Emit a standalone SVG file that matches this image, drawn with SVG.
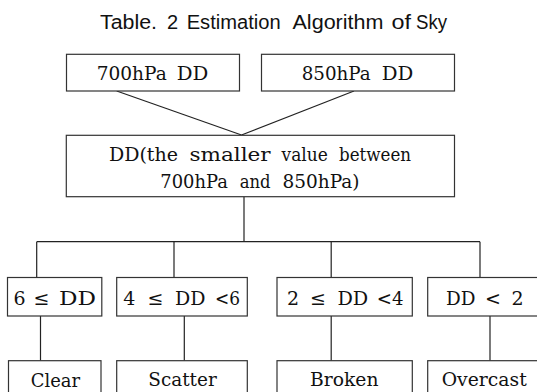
<svg xmlns="http://www.w3.org/2000/svg" width="537" height="392" viewBox="0 0 537 392">
<style>
.box{fill:#fff;stroke:#333;stroke-width:1.2}
.ln{stroke:#222;stroke-width:1.2;fill:none}
text{fill:#111}
.t{font-family:'DejaVu Serif','Liberation Serif',serif;font-size:19px}
.title{font-family:'Liberation Sans',Arial,sans-serif;font-size:20px}
</style>
<rect width="537" height="392" fill="#fff"/>
<g id="title" class="title">
<text x="100" y="29" textLength="57" lengthAdjust="spacingAndGlyphs">Table.</text>
<text x="167" y="29">2</text>
<text x="186.7" y="29" textLength="94" lengthAdjust="spacingAndGlyphs">Estimation</text>
<text x="292.5" y="29" textLength="91" lengthAdjust="spacingAndGlyphs">Algorithm</text>
<text x="391.5" y="29" textLength="19.5" lengthAdjust="spacingAndGlyphs">of</text>
<text x="416" y="29" textLength="31" lengthAdjust="spacingAndGlyphs">Sky</text>
</g>
<g id="connectors">
<line class="ln" x1="116.7" y1="91" x2="241.5" y2="135"/>
<line class="ln" x1="354" y1="91" x2="241.5" y2="135"/>
<line class="ln" x1="244" y1="196.7" x2="244" y2="241.7"/>
<line class="ln" x1="36.7" y1="241.7" x2="480" y2="241.7"/>
<line class="ln" x1="36.7" y1="241.7" x2="36.7" y2="277.5"/>
<line class="ln" x1="174" y1="241.7" x2="174" y2="277.5"/>
<line class="ln" x1="331.2" y1="241.7" x2="331.2" y2="277.5"/>
<line class="ln" x1="480" y1="241.7" x2="480" y2="277.5"/>
<line class="ln" x1="40.5" y1="316" x2="40.5" y2="360.7"/>
<line class="ln" x1="184.3" y1="316" x2="184.3" y2="360.7"/>
<line class="ln" x1="331.2" y1="316" x2="331.2" y2="360.7"/>
<line class="ln" x1="490" y1="316" x2="490" y2="360.7"/>
</g>
<g id="n700" class="t">
<rect class="box" x="66.5" y="54.3" width="173" height="36.7"/>
<text x="96.7" y="80" textLength="70" lengthAdjust="spacingAndGlyphs">700hPa</text>
<text x="176.7" y="80" textLength="31.6" lengthAdjust="spacingAndGlyphs">DD</text>
</g>
<g id="n850" class="t">
<rect class="box" x="261.5" y="54.3" width="193" height="36.7"/>
<text x="301.7" y="80" textLength="69" lengthAdjust="spacingAndGlyphs">850hPa</text>
<text x="381.7" y="80" textLength="31.6" lengthAdjust="spacingAndGlyphs">DD</text>
</g>
<g id="ndd" class="t">
<rect class="box" x="66.3" y="135.3" width="388.2" height="61.4"/>
<text x="108.9" y="160.5" textLength="69.1" lengthAdjust="spacingAndGlyphs">DD(the</text>
<text x="189.4" y="160.5" textLength="81.2" lengthAdjust="spacingAndGlyphs">smaller</text>
<text x="281.5" y="160.5" textLength="46.3" lengthAdjust="spacingAndGlyphs">value</text>
<text x="339" y="160.5" textLength="72" lengthAdjust="spacingAndGlyphs">between</text>
<text x="160.3" y="188" textLength="67.5" lengthAdjust="spacingAndGlyphs">700hPa</text>
<text x="239.7" y="188" textLength="30.9" lengthAdjust="spacingAndGlyphs">and</text>
<text x="282.6" y="188" textLength="77" lengthAdjust="spacingAndGlyphs">850hPa)</text>
</g>
<g id="c1" class="t">
<rect class="box" x="7.5" y="277.5" width="94.3" height="38.5"/>
<text x="13.5" y="305">6</text>
<text x="33.5" y="305">≤</text>
<text x="59" y="305" textLength="37" lengthAdjust="spacingAndGlyphs">DD</text>
</g>
<g id="c2" class="t">
<rect class="box" x="116.7" y="277.5" width="130.6" height="38.5"/>
<text x="123.3" y="305">4</text>
<text x="147.5" y="305">≤</text>
<text x="175" y="305" textLength="30.5" lengthAdjust="spacingAndGlyphs">DD</text>
<text x="215" y="305" textLength="25" lengthAdjust="spacingAndGlyphs">&lt;6</text>
</g>
<g id="c3" class="t">
<rect class="box" x="277" y="277.5" width="135.3" height="38.5"/>
<text x="287" y="305">2</text>
<text x="310" y="305">≤</text>
<text x="337.4" y="305" textLength="30.8" lengthAdjust="spacingAndGlyphs">DD</text>
<text x="376.8" y="305" textLength="26.7" lengthAdjust="spacingAndGlyphs">&lt;4</text>
</g>
<g id="c4" class="t">
<rect class="box" x="427.7" y="277.5" width="120" height="38.5"/>
<text x="446" y="305" textLength="29.5" lengthAdjust="spacingAndGlyphs">DD</text>
<text x="485" y="305">&lt;</text>
<text x="511.5" y="305">2</text>
</g>
<g id="r1" class="t">
<rect class="box" x="8.5" y="360.7" width="92.5" height="40"/>
<text x="30.7" y="386.5" textLength="49.3" lengthAdjust="spacingAndGlyphs">Clear</text>
</g>
<g id="r2" class="t">
<rect class="box" x="116.7" y="360.7" width="130.6" height="40"/>
<text x="148.3" y="386" textLength="68.4" lengthAdjust="spacingAndGlyphs">Scatter</text>
</g>
<g id="r3" class="t">
<rect class="box" x="277" y="360.7" width="135.3" height="40"/>
<text x="310" y="386" textLength="68.5" lengthAdjust="spacingAndGlyphs">Broken</text>
</g>
<g id="r4" class="t">
<rect class="box" x="427.7" y="360.7" width="120" height="40"/>
<text x="441.7" y="386" textLength="85" lengthAdjust="spacingAndGlyphs">Overcast</text>
</g>
</svg>
